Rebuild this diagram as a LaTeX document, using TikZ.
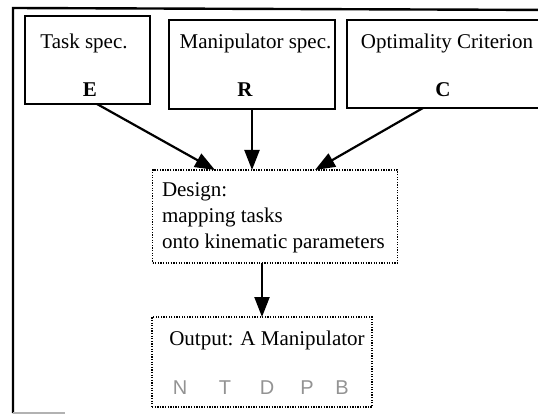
\documentclass[tikz,border=0pt]{standalone}
\usepackage{fontspec}
\setmainfont{Liberation Serif}
\newfontfamily\lettersf{Liberation Sans}
\usetikzlibrary{arrows.meta,calc}
\begin{document}
\begin{tikzpicture}[x=1pt,y=-1pt,
  every node/.style={inner sep=0pt,outer sep=0pt},
  solidbox/.style={draw,line width=2.4pt,minimum width=#1},
  dotbox/.style={draw,line width=1.8pt,dash pattern=on 1.3pt off 1.3pt},
  lbl/.style={font=\fontsize{21}{26}\selectfont},
  boldlbl/.style={font=\fontsize{21}{26}\selectfont\bfseries},
  hollow/.style={font=\lettersf\fontsize{20}{24}\selectfont,text=gray!85},
  arr/.style={line width=2.2pt,-{Triangle[length=20pt,width=15pt]}}]
\useasboundingbox (0,0) rectangle (538,417);
% outer frame (partly visible)
\coordinate (fbl) at (13,413);
\coordinate (ftl) at (13,8);
\coordinate (ftr) at (560,10);
\coordinate (fbr) at (65,413);
\draw[line width=2.4pt] (fbl) -- (ftl) -- (ftr);
\draw[line width=1.6pt,gray!60] (fbl) -- (fbr);
% input boxes
\node[solidbox=125pt,minimum height=88pt] (E) at (87.5,60) {};
\node[solidbox=166pt,minimum height=89pt] (R) at (252,64.5) {};
\node[solidbox=213pt,minimum height=88pt] (C) at (453.5,64) {};
\node[lbl] (Et) at (84,43) {Task spec.};
\node[boldlbl] (El) at (90,90) {E};
\node[lbl] (Rt) at (255.5,43) {Manipulator spec.};
\node[boldlbl] (Rl) at (245,90) {R};
\node[lbl] (Ct) at (447,43) {Optimality Criterion};
\node[boldlbl] (Cl) at (443,90) {C};
% design box
\node[dotbox,minimum width=245pt,minimum height=93pt] (D) at (275,216.5) {};
\node[lbl,align=left,anchor=west] (Dt) at (162,218) {Design:\\mapping tasks\\onto kinematic parameters};
% output box
\node[dotbox,minimum width=220pt,minimum height=90pt] (O) at (262,362) {};
\node[lbl] (Ot) at (267,340) {Output: A Manipulator};
\node[hollow] (N) at (180,388) {N};
\node[hollow] (T) at (225,388) {T};
\node[hollow] (Dl) at (267,388) {D};
\node[hollow] (P) at (307,388) {P};
\node[hollow] (B) at (342,388) {B};
% connectors
\draw[arr] ([xshift=9.5pt]E.south) -- ([xshift=-60pt]D.north);
\draw[arr] (R.south) -- (R.south |- D.north);
\draw[arr] ([xshift=-30.5pt]C.south) -- ([xshift=40pt]D.north);
\draw[arr] (O.north |- D.south) -- (O.north);
\end{tikzpicture}
\end{document}
